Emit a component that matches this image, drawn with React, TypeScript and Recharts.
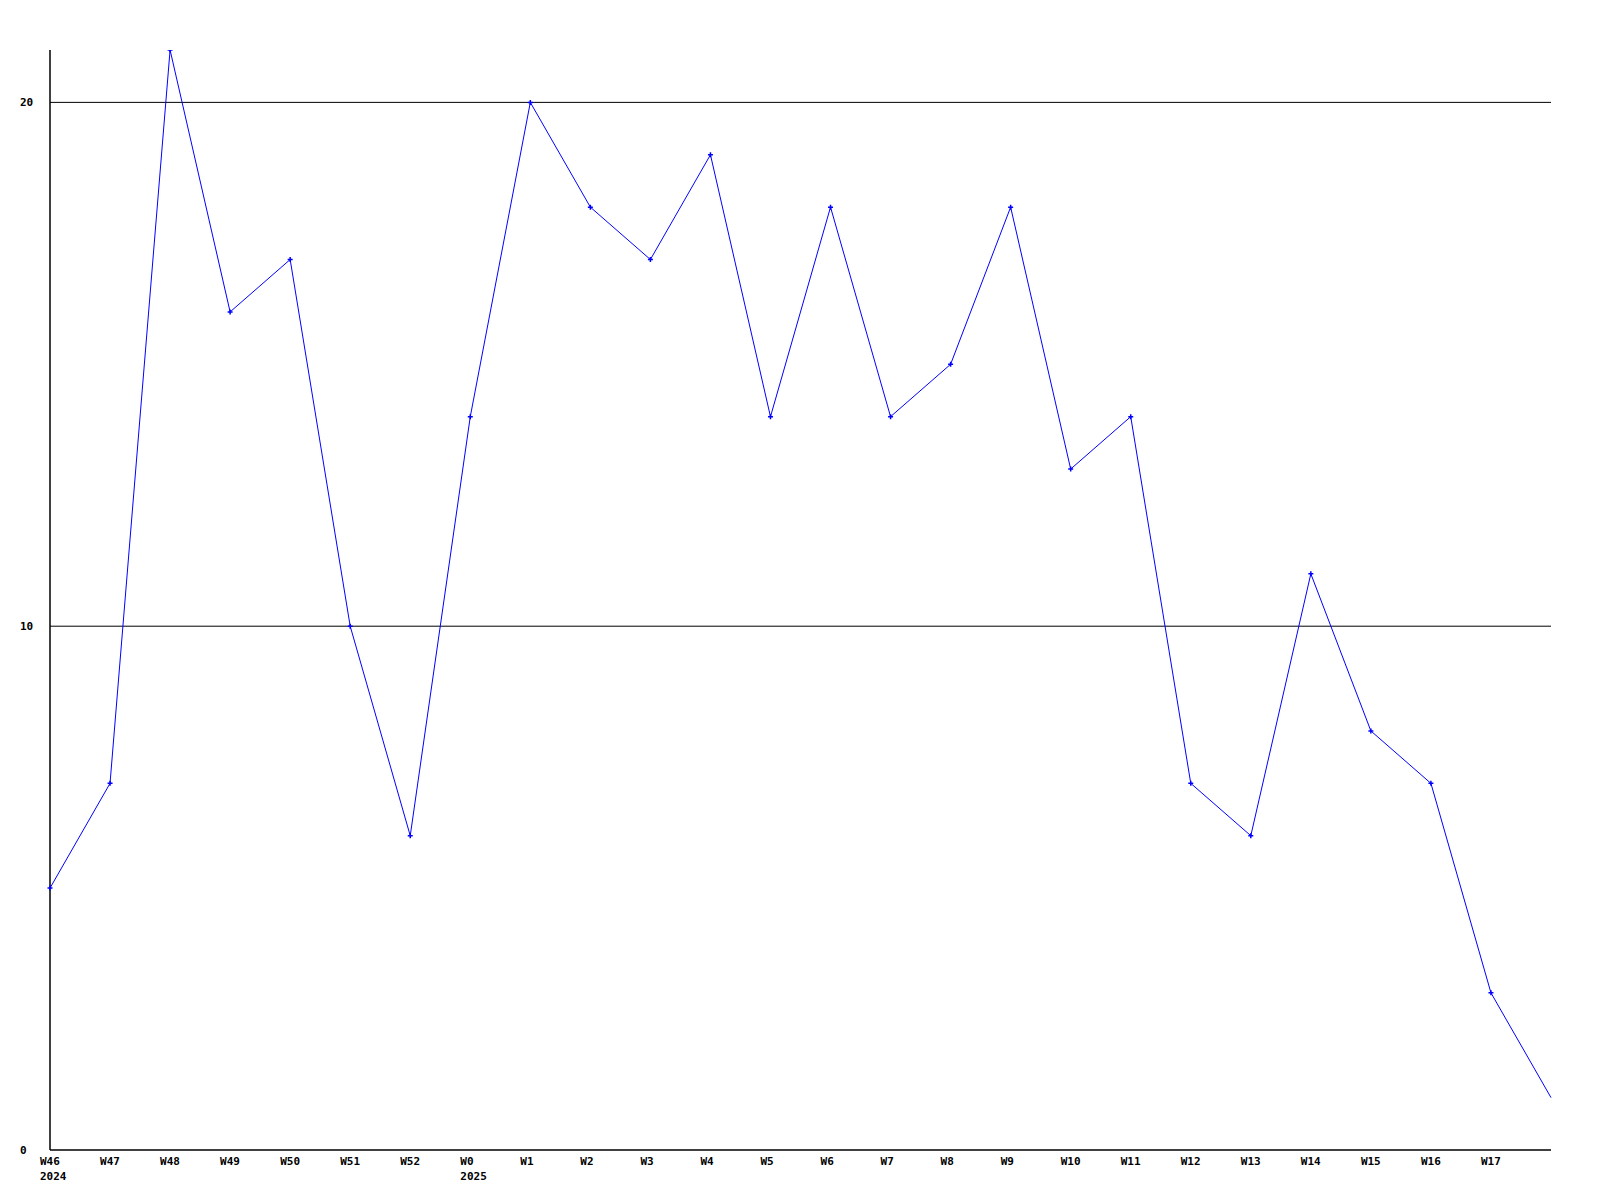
import React from 'react';
import { LineChart, Line, XAxis, YAxis, ReferenceLine } from 'recharts';

const weeks = ['W46','W47','W48','W49','W50','W51','W52','W0','W1','W2','W3','W4','W5','W6','W7','W8','W9','W10','W11','W12','W13','W14','W15','W16','W17',''];
const years = ['2024','','','','','','','2025','','','','','','','','','','','','','','','','','',''];
const counts = [5,7,21,16,17,10,6,14,20,18,17,19,14,18,14,15,18,13,14,7,6,11,8,7,3,1];
const yTicks = [0,10,20];
const gridValues = [10,20];

const data = weeks.map((w, i) => ({ key: i, week: w, year: years[i], value: counts[i] }));

const FONT = '"DejaVu Sans Mono", monospace';

const XTick = (props: any) => {
  const { x, y, payload } = props;
  const i = payload.value as number;
  return (
    <g>
      <text x={x - 10} y={y + 7} textAnchor="start" fontFamily={FONT} fontWeight="bold" fontSize={11} fill="#000">{weeks[i]}</text>
      {years[i] ? (
        <text x={x - 10} y={y + 22} textAnchor="start" fontFamily={FONT} fontWeight="bold" fontSize={11} fill="#000">{years[i]}</text>
      ) : null}
    </g>
  );
};

const YTick = (props: any) => {
  const { x, y, payload } = props;
  return (
    <text x={x - 24} y={y + 4} textAnchor="start" fontFamily={FONT} fontWeight="bold" fontSize={11} fill="#000">{payload.value}</text>
  );
};

const Dot = (props: any) => {
  const { cx, cy, index } = props;
  if (cx == null || cy == null || index === counts.length - 1) return <g key={index} />;
  return (
    <path key={index} d={`M${cx - 2.5},${cy}H${cx + 2.5}M${cx},${cy - 2.5}V${cy + 2.5}`} stroke="#0000ff" strokeWidth={1.5} fill="none" />
  );
};

export default function App() {
  return (
    <div style={{ position: 'absolute', left: 0, top: 0, width: 1600, height: 1200, background: '#fff' }}>
      <LineChart width={1600} height={1200} data={data} margin={{ top: 50, right: 49, bottom: 0, left: 0 }}>
        {gridValues.map((v) => (
          <ReferenceLine key={v} y={v} stroke="#000" strokeWidth={1} ifOverflow="visible" />
        ))}
        <XAxis dataKey="key" type="category" tick={<XTick />} tickLine={false} axisLine={{ stroke: '#000', strokeWidth: 1.5 }} interval={0} height={50} />
        <YAxis domain={[0, 21]} ticks={yTicks} tick={<YTick />} tickLine={false} axisLine={{ stroke: '#000', strokeWidth: 1.5 }} width={50} tickMargin={0} allowDataOverflow />
        <Line dataKey="value" stroke="#0000ff" strokeWidth={1} dot={<Dot />} activeDot={false} isAnimationActive={false} type="linear" />
      </LineChart>
    </div>
  );
}
